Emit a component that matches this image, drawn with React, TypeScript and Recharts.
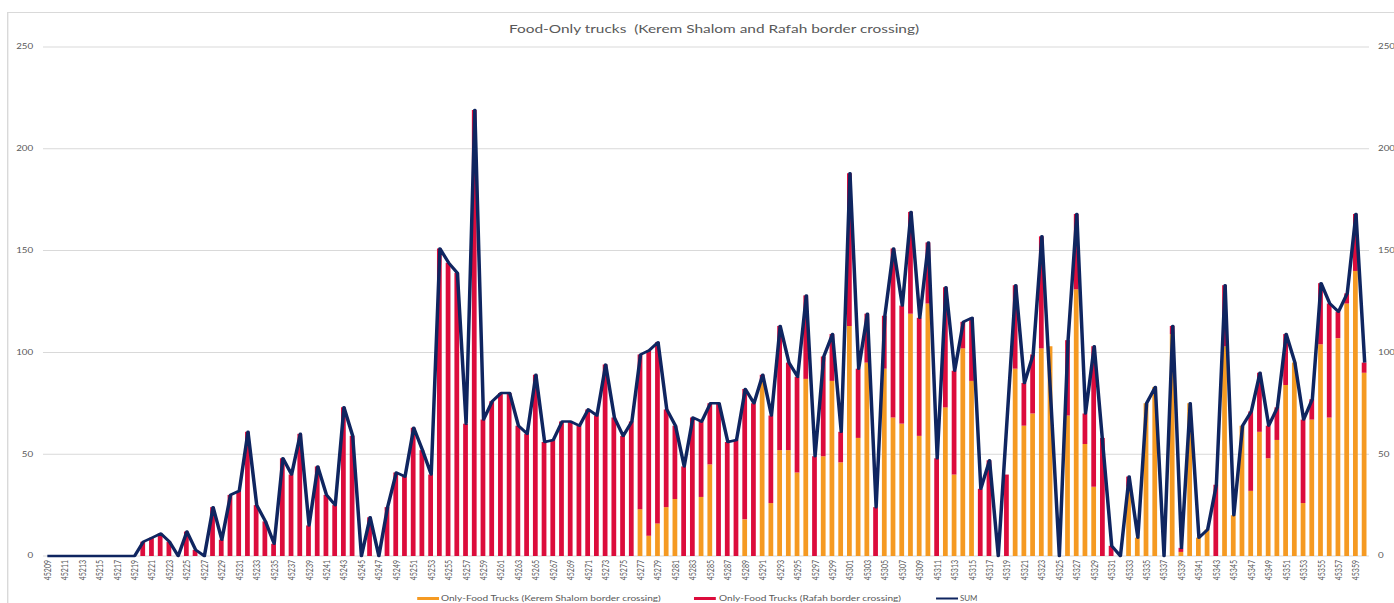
import React from "react";
import { ComposedChart, Bar, Line, XAxis, YAxis, CartesianGrid } from "recharts";

// the reference is an Excel chart stretched sideways, so draw narrow and scale on x
const STRETCH = 1.4;
const W = 996;
const H = 603;

const FIRST_DAY = 45209;
const DAY_COUNT = 152;
const days = Array.from({ length: DAY_COUNT }, (_, i) => String(FIRST_DAY + i));

const yTicks = [0, 50, 100, 150, 200, 250];

// Only-Food Trucks (Kerem Shalom border crossing), 45209 .. 45360
const keremShalom = [
  0, 0, 0, 0, 0, 0, 0, 0, 0, 0,
  0, 0, 0, 0, 0, 0, 0, 0, 0, 0,
  0, 0, 0, 0, 0, 0, 0, 0, 0, 0,
  0, 0, 0, 0, 0, 0, 0, 0, 0, 0,
  0, 0, 0, 0, 0, 0, 0, 0, 0, 0,
  0, 0, 0, 0, 0, 0, 0, 0, 0, 0,
  0, 0, 0, 0, 0, 0, 0, 0, 23, 10,
  16, 24, 28, 0, 0, 29, 45, 0, 0, 0,
  18, 0, 86, 26, 52, 52, 41, 87, 0, 49,
  86, 46, 113, 58, 95, 0, 92, 68, 65, 119,
  59, 124, 0, 73, 40, 102, 86, 0, 0, 0,
  0, 92, 64, 70, 102, 103, 0, 69, 131, 55,
  34, 0, 0, 0, 34, 9, 75, 83, 0, 109,
  2, 75, 9, 13, 0, 103, 20, 64, 32, 61,
  48, 57, 84, 95, 26, 67, 104, 68, 107, 124,
  140, 90,
];

// Only-Food Trucks (Rafah border crossing)
const rafah = [
  0, 0, 0, 0, 0, 0, 0, 0, 0, 0,
  0, 7, 9, 11, 7, 0, 12, 3, 0, 24,
  8, 30, 32, 61, 25, 17, 6, 48, 40, 60,
  15, 44, 30, 25, 73, 59, 0, 19, 0, 24,
  41, 39, 63, 52, 40, 151, 144, 139, 65, 219,
  67, 76, 80, 80, 64, 60, 89, 56, 57, 66,
  66, 64, 72, 69, 94, 68, 59, 66, 76, 91,
  89, 48, 36, 44, 68, 37, 30, 75, 56, 57,
  64, 75, 3, 43, 61, 43, 47, 41, 49, 49,
  23, 15, 75, 34, 24, 24, 26, 83, 58, 50,
  58, 30, 48, 59, 51, 13, 31, 33, 47, 0,
  40, 41, 21, 29, 55, 0, 0, 37, 37, 15,
  69, 58, 5, 0, 5, 0, 0, 0, 0, 4,
  2, 0, 0, 0, 35, 30, 0, 0, 39, 29,
  16, 16, 25, 0, 41, 10, 30, 56, 13, 5,
  28, 5,
];

// SUM line (gaps where the line runs straight past a day)
const sumLine: (number | null)[] = [
  0, 0, 0, 0, 0, 0, 0, 0, 0, 0,
  0, 7, 9, 11, 7, 0, 12, 3, 0, 24,
  8, 30, 32, 61, 25, 17, 6, 48, 40, 60,
  15, 44, 30, 25, 73, 59, 0, 19, 0, 24,
  41, 39, 63, 52, 40, 151, 144, 139, 65, 219,
  67, 76, 80, 80, 64, 60, 89, 56, 57, 66,
  66, 64, 72, 69, 94, 68, 59, 66, 99, 101,
  105, 72, 64, 44, 68, 66, 75, 75, 56, 57,
  82, 75, 89, 69, 113, 95, 88, 128, 49, 98,
  109, 61, 188, 92, 119, 24, 118, 151, 123, 169,
  117, 154, 48, 132, 91, 115, 117, 33, 47, 0,
  null, 133, 85, 99, 157, null, 0, 106, 168, 70,
  103, null, 5, 0, 39, 9, 75, 83, 0, 113,
  4, 75, 9, 13, 35, 133, 20, 64, 71, 90,
  64, 73, 109, 95, 67, 77, 134, 124, 120, 129,
  168, 95,
];

const data = days.map((day, i) => ({
  day,
  kerem: keremShalom[i],
  rafah: rafah[i],
  sum: sumLine[i],
}));

const ORANGE = "#f59a22";
const RED = "#dc0c3c";
const NAVY = "#0f2560";
const TEXT = "#595959";
const GRID = "#d9d9d9";
const FONT = "Lato, 'Open Sans', sans-serif";

function DayTick({ x, y, payload }: any) {
  return (
    <text
      x={x}
      y={y}
      transform={`rotate(-90 ${x} ${y})`}
      textAnchor="end"
      dominantBaseline="central"
      fontSize={7}
      fontFamily={FONT}
      fill={TEXT}
    >
      {payload.value}
    </text>
  );
}

function Overlay() {
  return (
    <svg
      width={W}
      height={H}
      style={{ position: "absolute", left: 0, top: 0, pointerEvents: "none" }}
    >
      <text
        x={510}
        y={33}
        textAnchor="middle"
        fontSize={10.5}
        fontFamily={FONT}
        fill={TEXT}
        textLength={293}
        lengthAdjust="spacingAndGlyphs"
        style={{ whiteSpace: "pre" }}
      >
        {"Food-Only trucks  (Kerem Shalom and Rafah border crossing)"}
      </text>
      <rect x={298} y={597} width={15.6} height={3} fill={ORANGE} />
      <text x={315} y={601} fontSize={8} fontFamily={FONT} fill={TEXT} textLength={157} lengthAdjust="spacingAndGlyphs">
        Only-Food Trucks (Kerem Shalom border crossing)
      </text>
      <rect x={495.7} y={597} width={15.6} height={3} fill={RED} />
      <text x={513.6} y={601} fontSize={8} fontFamily={FONT} fill={TEXT} textLength={130} lengthAdjust="spacingAndGlyphs">
        Only-Food Trucks (Rafah border crossing)
      </text>
      <line x1={668.6} x2={684.3} y1={598.5} y2={598.5} stroke={NAVY} strokeWidth={2} />
      <text x={685.7} y={601} fontSize={8} fontFamily={FONT} fill={TEXT} textLength={12.5} lengthAdjust="spacingAndGlyphs">
        SUM
      </text>
    </svg>
  );
}

export default function App() {
  const tickStyle = { fontSize: 7, fill: TEXT, fontFamily: FONT };
  return (
    <div
      style={{
        position: "absolute",
        left: 0,
        top: 0,
        width: 1394,
        height: H,
        overflow: "hidden",
        background: "#fff",
      }}
    >
      <div
        style={{
          position: "absolute",
          left: 0,
          top: 0,
          width: W,
          height: H,
          transform: `scaleX(${STRETCH})`,
          transformOrigin: "0 0",
        }}
      >
        <div
          style={{
            position: "absolute",
            left: 5,
            top: 12,
            width: W,
            height: H,
            borderTop: `1px solid ${GRID}`,
            borderLeft: `1px solid ${GRID}`,
          }}
        />
        <ComposedChart
          width={W}
          height={H}
          data={data}
          margin={{ top: 47, right: 0, bottom: 0, left: 0 }}
          barSize={3.4}
        >
          <CartesianGrid yAxisId="left" vertical={false} stroke={GRID} />
          <XAxis
            dataKey="day"
            interval={1}
            height={47}
            tick={<DayTick />}
            tickLine={false}
            tickSize={0}
            tickMargin={4}
            axisLine={false}
          />
          <YAxis
            yAxisId="left"
            width={30.7}
            domain={[0, 250]}
            ticks={yTicks}
            tick={tickStyle}
            tickLine={false}
            axisLine={false}
            tickSize={0}
            tickMargin={7}
          />
          <YAxis
            yAxisId="right"
            orientation="right"
            width={18.1}
            domain={[0, 250]}
            ticks={yTicks}
            tick={{ ...tickStyle, textAnchor: "start" }}
            tickLine={false}
            axisLine={false}
            tickSize={0}
            tickMargin={6.4}
            allowDataOverflow
          />
          <Bar yAxisId="left" dataKey="kerem" stackId="a" fill={ORANGE} isAnimationActive={false} />
          <Bar yAxisId="left" dataKey="rafah" stackId="a" fill={RED} isAnimationActive={false} />
          <Line
            yAxisId="left"
            type="linear"
            dataKey="sum"
            stroke={NAVY}
            strokeWidth={2.5}
            strokeLinejoin="round"
            dot={false}
            connectNulls
            isAnimationActive={false}
          />
        </ComposedChart>
        <Overlay />
      </div>
    </div>
  );
}
